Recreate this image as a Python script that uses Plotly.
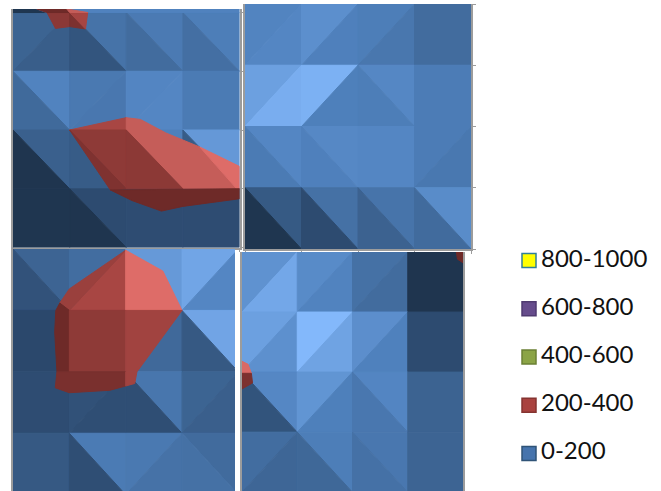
import plotly.graph_objects as go

WIDTH, HEIGHT = 661, 491

LEGEND_LABELS = ["800-1000", "600-800", "400-600", "200-400", "0-200"]
LEGEND_FILL = ["#ffff00", "#664c8c", "#8ba446", "#a9423f", "#4674ad"]
LEGEND_EDGE = ["#2f7f9a", "#4f3a70", "#6b8035", "#853330", "#2f5377"]

# Facet shading of each panel: one row per band, one entry per cell.
# "/" and "\\" give the diagonal of the cell; upper and lower give the level
# of the triangle above and below that diagonal.
A_DIAG = ["/\\\\\\", "\\///", "\\\\\\\\", "/\\//"]
A_UPPER = [[146, 168, 179, 184], [191, 177, 194, 180], [141, 141, 187, 215], [80, 112, 114, 114]]
A_LOWER = [[138, 126, 158, 163], [155, 175, 195, 180], [79, 135, 135, 135], [80, 79, 114, 114]]

B_DIAG = ["////", "//\\/", "\\\\//", "\\\\\\\\"]
B_UPPER = [[192, 205, 184, 158], [224, 243, 196, 182], [195, 197, 195, 182], [132, 165, 170, 201]]
B_LOWER = [[195, 188, 174, 158], [239, 187, 184, 182], [180, 188, 195, 176], [80, 112, 144, 157]]

C_DIAG = ["\\\\\\/", "///\\", "//\\/", "/\\/\\"]
C_UPPER = [[147, 160, 216, 230], [108, 108, 154, 229], [114, 120, 173, 146], [131, 180, 177, 157]]
C_LOWER = [[122, 160, 216, 195], [108, 108, 154, 131], [114, 116, 116, 140], [131, 116, 167, 165]]

D_DIAG = ["////", "////", "\\/\\/", "/\\\\/"]
D_UPPER = [[208, 200, 165, 79], [224, 251, 204, 112], [196, 211, 194, 145], [160, 184, 175, 147]]
D_LOWER = [[232, 191, 158, 79], [206, 227, 189, 112], [124, 187, 175, 145], [150, 152, 166, 147]]

# Sliver of the band behind the first panel's top row.
A_BACK_LEVEL = [80, 190]
A_BACK_X = [[0, 0.42, 0.6, 0], [0.42, 4, 4, 0.6]]
A_BACK_Y = [[-0.06, -0.06, 0, 0], [-0.06, -0.06, 0, 0]]

# Faces of the 200-400 band, in grid units of each panel.
A_RED_LEVEL = [168, 197, 222, 142, 127, 140, 110, 139, 124, 166, 110, 197]
A_RED_X = [
    [1, 2, 2],
    [2, 2.25, 2.7, 3.3, 3.95, 3, 2],
    [3.3, 4, 4, 3.95],
    [1, 2, 2],
    [1, 1.72, 2],
    [2, 3, 2],
    [1.72, 4, 4, 3, 2.62, 2.1],
    [0.6, 1, 1, 0.75],
    [1, 1.28, 1],
    [1, 1.32, 1.28],
    [0.42, 0.95, 1, 0.6],
    [0.95, 1.32, 1],
]
A_RED_Y = [
    [2, 1.79, 2],
    [1.79, 1.82, 2.05, 2.29, 3, 3, 2],
    [2.29, 2.62, 3, 3],
    [2, 2, 3],
    [2, 3.02, 3],
    [2, 3, 3],
    [3.02, 3, 3.17, 3.3, 3.38, 3.2],
    [0, 0, 0.24, 0.27],
    [0, 0.28, 0.24],
    [0, 0, 0.28],
    [-0.06, -0.06, 0, 0],
    [-0.06, 0, 0],
]

C_RED_LEVEL = [168, 154, 222, 110, 142, 161, 122, 161]
C_RED_X = [
    [1, 2, 2],
    [0.83, 1, 2, 1],
    [2, 2.66, 3, 2],
    [0.83, 1, 1, 0.78, 0.74, 0.76],
    [1, 2, 2, 1],
    [2, 3, 2.2, 2],
    [0.78, 2, 2, 1.72, 1, 0.75],
    [2, 2.2, 2.16, 2],
]
C_RED_Y = [
    [1, 0.02, 1],
    [0.88, 0.65, 0.02, 1],
    [0.02, 0.36, 1, 1],
    [0.88, 1, 2, 2, 1.35, 1],
    [1, 1, 2, 2],
    [1, 1, 2, 2],
    [2, 2, 2.23, 2.3, 2.34, 2.26],
    [2, 2, 2.19, 2.23],
]

D_RED_LEVEL = [218, 124, 110]
D_RED_X = [[0, 0.11, 0.17, 0], [0, 0.17, 0.19, 0], [3.88, 4, 4, 3.9]]
D_RED_Y = [[1.82, 1.87, 2.02, 2.02], [2.02, 2.02, 2.18, 2.28], [0, 0, 0.18, 0.12]]

# Colour ramps: facet level -> RGB.
BLUE_RAMP = [(79, (31, 53, 79)), (112, (45, 75, 112)), (145, (60, 99, 145)),
             (189, (79, 129, 189)), (251, (131, 184, 251))]
RED_RAMP = [(110, (110, 42, 40)), (142, (142, 58, 55)), (168, (168, 70, 67)),
            (197, (197, 93, 89)), (222, (222, 108, 104))]


def ramp_colour(ramp, level):
    for (l0, c0), (l1, c1) in zip(ramp, ramp[1:]):
        if level <= l1:
            t = max(0, (level - l0) / (l1 - l0))
            rgb = [round(a + (b - a) * t) for a, b in zip(c0, c1)]
            return "rgb({},{},{})".format(*rgb)
    return "rgb({},{},{})".format(*ramp[-1][1])


def add_face(fig, xs, ys, colour, n):
    # The stroke in the fill colour closes the hairline between touching facets.
    fig.add_trace(go.Scatter(
        x=list(xs) + [xs[0]], y=list(ys) + [ys[0]], mode="lines", fill="toself",
        fillcolor=colour, line=dict(color=colour, width=1),
        xaxis=f"x{n}", yaxis=f"y{n}", hoverinfo="skip", showlegend=False,
    ))


def add_cells(fig, diag, upper, lower, n):
    for r, row in enumerate(diag):
        for c, d in enumerate(row):
            tl, tr, bl, br = (c, r), (c + 1, r), (c, r + 1), (c + 1, r + 1)
            if upper[r][c] == lower[r][c]:
                faces = [((tl, tr, br, bl), upper[r][c])]
            elif d == "\\":
                faces = [((tl, tr, br), upper[r][c]), ((tl, br, bl), lower[r][c])]
            else:
                faces = [((tl, tr, bl), upper[r][c]), ((tr, br, bl), lower[r][c])]
            for pts, level in faces:
                add_face(fig, [p[0] for p in pts], [p[1] for p in pts],
                         ramp_colour(BLUE_RAMP, level), n)


def add_faces(fig, levels, xs, ys, ramp, n):
    for level, x, y in zip(levels, xs, ys):
        add_face(fig, x, y, ramp_colour(ramp, level), n)


fig = go.Figure()
add_cells(fig, A_DIAG, A_UPPER, A_LOWER, 1)
add_faces(fig, A_BACK_LEVEL, A_BACK_X, A_BACK_Y, BLUE_RAMP, 1)
add_faces(fig, A_RED_LEVEL, A_RED_X, A_RED_Y, RED_RAMP, 1)
add_cells(fig, B_DIAG, B_UPPER, B_LOWER, 2)
add_cells(fig, C_DIAG, C_UPPER, C_LOWER, 3)
add_faces(fig, C_RED_LEVEL, C_RED_X, C_RED_Y, RED_RAMP, 3)
add_cells(fig, D_DIAG, D_UPPER, D_LOWER, 4)
add_faces(fig, D_RED_LEVEL, D_RED_X, D_RED_Y, RED_RAMP, 4)

# Key on the right, drawn in its own small axes.
rows = list(range(len(LEGEND_LABELS)))
fig.add_trace(go.Scatter(
    x=[0] * len(rows), y=rows, mode="markers",
    marker=dict(symbol="square", size=14, color=LEGEND_FILL,
                line=dict(color=LEGEND_EDGE, width=1.5)),
    xaxis="x5", yaxis="y5", hoverinfo="skip", showlegend=False,
))
fig.add_trace(go.Scatter(
    x=[12] * len(rows), y=rows, mode="text", text=LEGEND_LABELS,
    textposition="middle right",
    textfont=dict(family="Lato", size=24, color="#111111"),
    xaxis="x5", yaxis="y5", hoverinfo="skip", showlegend=False, cliponaxis=False,
))


def xdom(a, b):
    return [a / WIDTH, b / WIDTH]


def ydom(top, bottom):
    return [1 - bottom / HEIGHT, 1 - top / HEIGHT]


FRAME = "#9c9c9c"


def frame_axis(domain, rng, show_line=True, ticks=True, **kw):
    return dict(
        domain=domain, range=rng, showgrid=False, zeroline=False, showticklabels=False,
        showline=show_line, linecolor=FRAME, linewidth=1.5,
        ticks="outside" if ticks else "", ticklen=3, tickcolor=FRAME, tickwidth=1,
        tickvals=[0, 1, 2, 3, 4] if ticks else [], **kw,
    )


fig.update_layout(
    width=WIDTH, height=HEIGHT, margin=dict(l=0, r=0, t=0, b=0),
    paper_bgcolor="white", plot_bgcolor="white", showlegend=False,
    xaxis=frame_axis(xdom(13, 239.5), [0, 4], anchor="y"),
    yaxis=frame_axis(ydom(9, 247.5), [4, -0.06], anchor="x", mirror=True, side="right"),
    xaxis2=frame_axis(xdom(245, 471), [0, 4], anchor="y2"),
    yaxis2=frame_axis(ydom(4, 249), [4, 0], anchor="x2", mirror=True, side="right"),
    xaxis3=frame_axis(xdom(13, 235), [0, 3.94], show_line=False, ticks=False, anchor="y3"),
    yaxis3=frame_axis(ydom(249, 491), [3.94, 0], ticks=False, anchor="x3"),
    xaxis4=frame_axis(xdom(242, 463), [0, 4], show_line=False, ticks=False, anchor="y4"),
    yaxis4=frame_axis(ydom(252, 491), [3.98, 0], ticks=False, anchor="x4", mirror=True),
    xaxis5=dict(domain=xdom(520, 660), range=[-9, 131], visible=False, anchor="y5"),
    yaxis5=dict(domain=ydom(236.5, 477.5), range=[4.5, -0.5], visible=False, anchor="x5"),
)

fig.write_html("out.html", config={"displayModeBar": False})
